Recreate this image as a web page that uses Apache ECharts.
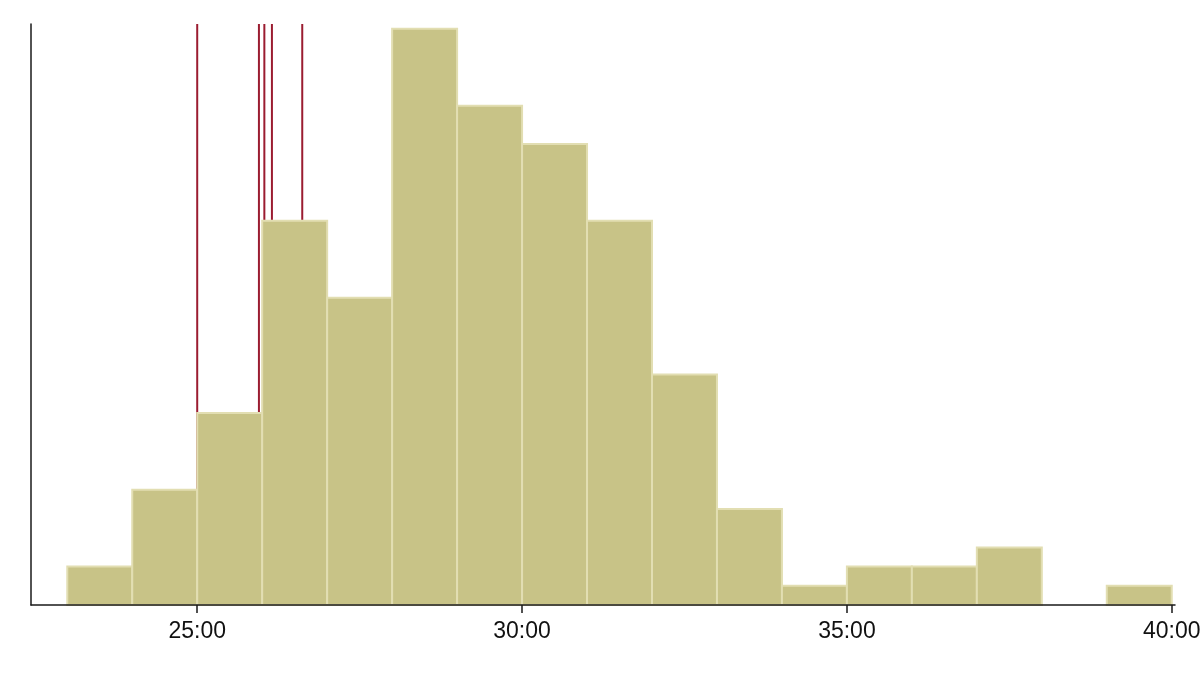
<!DOCTYPE html>
<html>
<head>
<meta charset="utf-8">
<script src="https://cdn.jsdelivr.net/npm/echarts@6/dist/echarts.min.js"></script>
<style>html,body{margin:0;padding:0;background:#fff}#c{width:1200px;height:675px}</style>
</head>
<body>
<div id="c"></div>
<script>
// Histogram bins: start (seconds), 60-second width
var binStarts = [1380,1440,1500,1560,1620,1680,1740,1800,1860,1920,1980,2040,2100,2160,2220,2280,2340];
var binCounts = [2,6,10,20,16,30,26,24,20,12,5,1,2,2,3,0,1];
var binWidth = 60;
// Marker times (seconds)
var markerTimes = [1500,1557,1562,1569,1597];
// Tick labels (seconds)
var tickValues = [1500,1800,2100,2400];

function fmt(v){var m=Math.floor(v/60),s=Math.round(v-m*60);return m+':'+(s<10?'0':'')+s;}

var chart = echarts.init(document.getElementById('c'));
var histData = binStarts.map(function(s,i){return [s, s+binWidth, binCounts[i]];});
var yMax = 30.25;

chart.setOption({
  animation:false,
  grid:{left:31,right:25,top:24,bottom:70,outerBoundsMode:'none',containLabel:false},
  xAxis:{
    type:'value', min:1346.5, max:2403, z:20,
    axisLine:{show:true,lineStyle:{color:'#1a1a1a',width:1.5}},
    axisTick:{show:true,length:8,lineStyle:{color:'#1a1a1a',width:1.5},customValues:tickValues},
    axisLabel:{customValues:tickValues,formatter:function(v){return fmt(v);},color:'#111',fontSize:23,fontFamily:'Liberation Sans, Arial, sans-serif',margin:15,hideOverlap:false},
    splitLine:{show:false}
  },
  yAxis:{
    type:'value', min:0, max:yMax, z:20,
    axisLine:{show:true,lineStyle:{color:'#1a1a1a',width:1.5}},
    axisTick:{show:false}, axisLabel:{show:false}, splitLine:{show:false}
  },
  series:[
    {
      type:'custom', z:1,
      data:markerTimes.map(function(t){return [t];}),
      encode:{x:0},
      renderItem:function(params,api){
        var top=api.coord([api.value(0),yMax]);
        var bot=api.coord([api.value(0),0]);
        return {type:'line',shape:{x1:top[0],y1:top[1],x2:bot[0],y2:bot[1]},
          style:{stroke:'#9b1c31',lineWidth:2}};
      }
    },
    {
      type:'custom', z:5,
      data:histData,
      encode:{x:[0,1],y:2},
      renderItem:function(params,api){
        if(!api.value(2)) return null;
        var p0=api.coord([api.value(0),api.value(2)]);
        var p1=api.coord([api.value(1),0]);
        return {type:'rect',shape:{x:p0[0],y:p0[1],width:p1[0]-p0[0],height:p1[1]-p0[1]},
          style:{fill:'#c8c387',stroke:'#e2deb2',lineWidth:2}};
      }
    }
  ]
});
</script>
</body>
</html>
